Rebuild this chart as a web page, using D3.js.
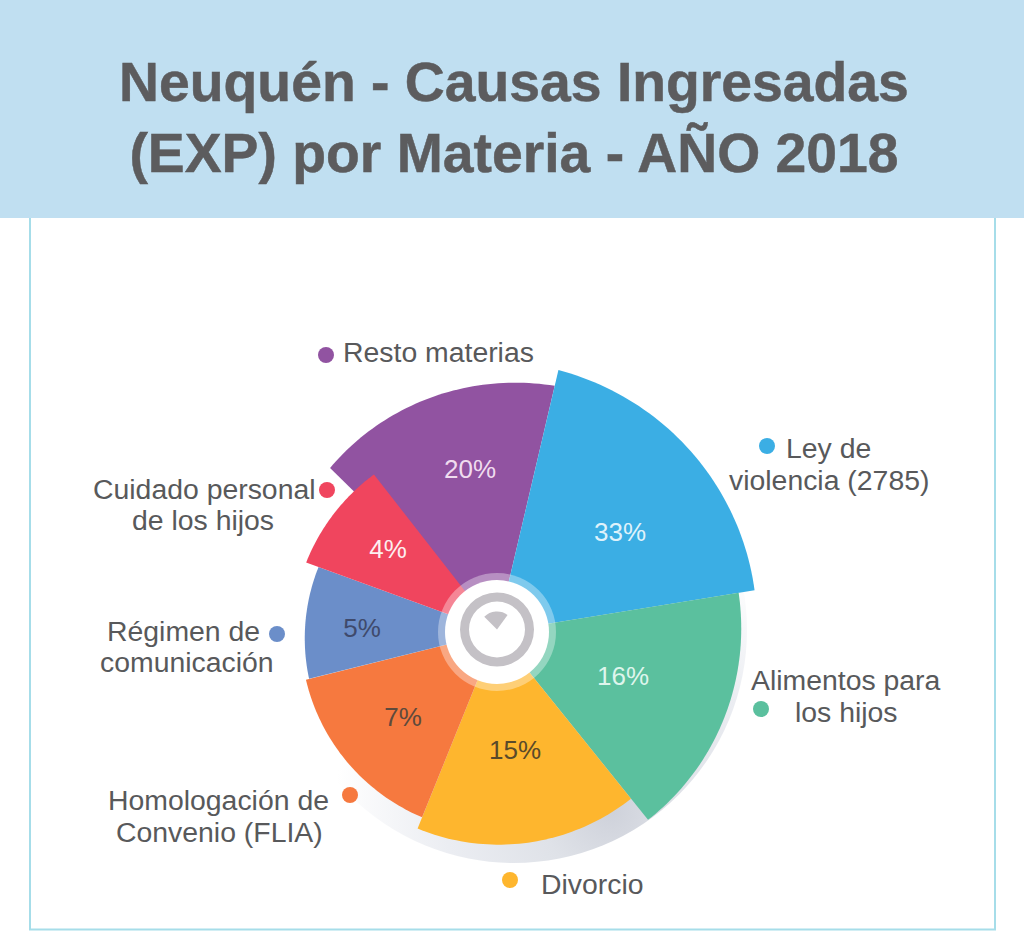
<!DOCTYPE html>
<html>
<head>
<meta charset="utf-8">
<script src="https://cdn.jsdelivr.net/npm/d3@7"></script>
<style>
  html, body { margin: 0; padding: 0; background: #fff; }
  svg { display: block; }
  text { font-family: "Liberation Sans", Arial, sans-serif; }
</style>
</head>
<body>
<div id="chart"></div>
<script>
const titleLines = ["Neuquén - Causas Ingresadas", "(EXP) por Materia - AÑO 2018"];

// drawing order: purple goes first, the red slice sits over its edge
const categories = ["Resto materias", "Ley de violencia (2785)", "Alimentos para los hijos", "Divorcio",
  "Homologación de Convenio (FLIA)", "Régimen de comunicación", "Cuidado personal de los hijos"];
const percents = [20, 33, 16, 15, 7, 5, 4];
// the wedges are not proportional to the percent, these are read off the picture
// (degrees clockwise from north, reach as % of the longest edge)
const startDeg = [-45.5, 13.2, 80.8, 141.2, 202, 256, 290];
const endDeg = [13.2, 80.8, 141.2, 202, 256, 290, 322];
const reachStart = [87, 100, 91, 79.5, 74.3, 72, 75.5];
const reachEnd = [94, 97, 89.6, 78.8, 73.2, 70.6, 74.3];

const colors = ["#9153a1", "#3baee4", "#5bc09e", "#feb62e", "#f6793f", "#6b8ec9", "#f0455e"];
const pctColors = ["#f0dcef", "#dff2fb", "#def5ec", "#5a4a2a", "#5e4a3c", "#3f4a6c", "#fdeef0"];

const width = 1024;
const height = 931;
const cx = 497;
const cy = 632;

const svg = d3.select("#chart").append("svg").attr("width", width).attr("height", height);

// shadow fades out towards the upper left
const shade = svg.append("defs").append("radialGradient")
  .attr("id", "shade")
  .attr("gradientUnits", "userSpaceOnUse")
  .attr("cx", 113).attr("cy", 178).attr("r", 275);
shade.append("stop").attr("offset", 0).attr("stop-color", "#ced1da");
shade.append("stop").attr("offset", 0.25).attr("stop-color", "#dfe2e8");
shade.append("stop").attr("offset", 0.6).attr("stop-color", "#ebedf2");
shade.append("stop").attr("offset", 1).attr("stop-color", "#ffffff");

// header band and frame
svg.append("rect").attr("width", width).attr("height", 218).attr("fill", "#c0dff1");
svg.append("path")
  .attr("d", d3.line()([[30, 218], [30, 929.5], [995, 929.5], [995, 218]]))
  .attr("fill", "none").attr("stroke", "#a6dde9").attr("stroke-width", 2);

const titleBase = [101, 172];
svg.selectAll(".title").data(titleLines).enter().append("text")
  .attr("class", "title")
  .attr("x", 514)
  .attr("y", (d, i) => titleBase[i])
  .attr("text-anchor", "middle")
  .attr("font-size", 55.3)
  .attr("font-weight", "bold")
  .attr("fill", "#5c5c5e")
  .attr("stroke", "#5c5c5e")
  .attr("stroke-width", 0.5)
  .text((d) => d);

const rad = d3.scaleLinear().domain([0, 100]).range([0, 269]);
const angle = d3.scaleLinear().domain([0, 360]).range([0, 2 * Math.PI]);

// wedge whose outer edge runs from one reach to the other
function wedge(i) {
  const a = d3.scaleLinear().domain([0, 1]).range([angle(startDeg[i]), angle(endDeg[i])]);
  const r = d3.scaleLinear().domain([0, 1]).range([rad(reachStart[i]), rad(reachEnd[i])]);
  const edge = d3.range(0, 1.001, 0.02).map((t) => [a(t), r(t)]);
  return d3.lineRadial().curve(d3.curveLinearClosed)([[0, 0], ...edge]);
}

const g = svg.append("g").attr("transform", `translate(${cx},${cy})`);

g.append("circle")
  .attr("cx", 17).attr("cy", -2).attr("r", 233)
  .attr("fill", "url(#shade)");

g.selectAll(".slice").data(categories).enter().append("path")
  .attr("class", "slice")
  .attr("fill", (d, i) => colors[i])
  .attr("d", (d, i) => wedge(i));

// hub
g.append("circle").attr("r", 59).attr("fill", "#fff").attr("opacity", 0.35);
g.append("circle").attr("r", 52).attr("fill", "#fff");
const hub = g.append("g").attr("transform", "translate(0,-2.5)");
hub.append("path")
  .attr("d", d3.arc().innerRadius(28).outerRadius(37).startAngle(0).endAngle(2 * Math.PI)())
  .attr("fill", "#c4c1c6");
hub.append("path")
  .attr("d", d3.arc().innerRadius(0).outerRadius(18).startAngle(angle(-45)).endAngle(angle(36))())
  .attr("fill", "#c4c1c6");

// percent labels, same order as the slices
const pctPos = [[470, 478], [620, 541], [623, 685], [515, 759], [403, 726], [362, 637], [388, 558]];
svg.selectAll(".pct").data(percents).enter().append("text")
  .attr("class", "pct")
  .attr("x", (d, i) => pctPos[i][0])
  .attr("y", (d, i) => pctPos[i][1])
  .attr("text-anchor", "middle")
  .attr("font-size", 26)
  .attr("fill", (d, i) => pctColors[i])
  .text((d) => d + "%");

// legend: dot plus one or two lines of text
const legendDots = [[326, 355], [767, 446], [761, 709], [510, 880], [350, 795], [277, 634], [327, 490]];
const legendLines = [
  [["Resto materias", 343, 362]],
  [["Ley de", 786, 458], ["violencia (2785)", 729, 490]],
  [["Alimentos para", 751, 690], ["los hijos", 795, 722]],
  [["Divorcio", 541, 894]],
  [["Homologación de", 108, 810], ["Convenio (FLIA)", 116, 842]],
  [["Régimen de", 107, 641], ["comunicación", 100, 672]],
  [["Cuidado personal", 93, 499], ["de los hijos", 132, 530]],
];
svg.selectAll(".dot").data(legendDots).enter().append("circle")
  .attr("class", "dot")
  .attr("cx", (d) => d[0])
  .attr("cy", (d) => d[1])
  .attr("r", 8)
  .attr("fill", (d, i) => colors[i]);
svg.selectAll(".legend").data(legendLines.flat()).enter().append("text")
  .attr("class", "legend")
  .attr("x", (d) => d[1])
  .attr("y", (d) => d[2])
  .attr("font-size", 28.4)
  .attr("fill", "#58595b")
  .text((d) => d[0]);
</script>
</body>
</html>
